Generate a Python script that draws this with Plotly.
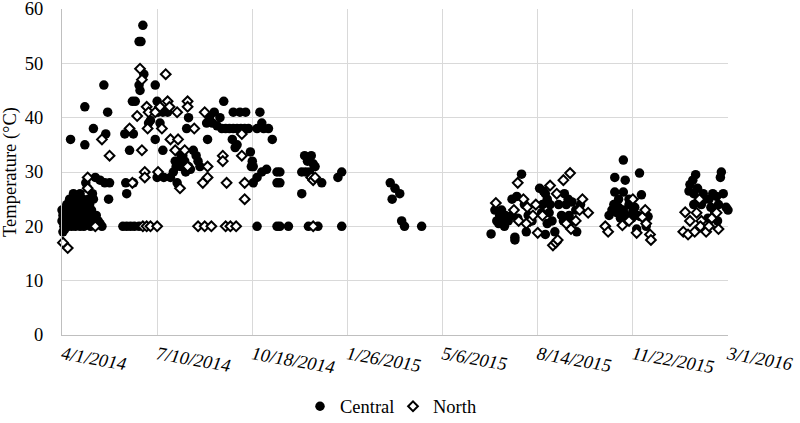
import plotly.graph_objects as go
import pandas as pd

# Days since 4/1/2014 and temperatures (°C)
central_day = [0, 0, 1, 1, 2, 3, 3, 4, 5, 5, 6, 7, 8, 8, 9, 10, 10, 11, 12, 12, 13, 14, 14, 15, 16, 17, 17, 18, 19, 19,
               20, 21, 22, 23, 24, 24, 25, 26, 27, 27, 28, 29, 29, 30, 31, 32, 33, 34, 36, 38, 40, 42, 35, 40, 45, 50,
               49, 9, 24, 24, 33, 44, 48, 46,
               66, 75, 71, 74, 77, 81, 83, 85, 86, 81, 82, 98, 100, 98, 91, 93, 103, 106, 101, 106, 111, 100, 107, 114,
               121, 117, 120, 122, 125, 127, 130, 133, 119, 124, 129, 135, 131, 133, 138, 141, 145, 143, 152, 155, 158,
               160, 166, 163, 168, 172, 176, 180, 184, 188, 192, 196, 170, 180, 187, 193, 153, 179, 182, 184, 198, 200,
               199, 201, 205, 210, 212, 217, 221, 208, 205, 210, 215, 201, 226, 226, 67, 68, 75,
               64, 68, 72, 76, 81, 205, 226,
               229, 229, 229, 238, 252, 256, 260, 252, 255, 258, 262, 266, 264, 273, 259, 269, 290, 294, 294,
               345, 350, 355, 347, 357, 360, 378,
               451, 476, 476, 483, 457, 460, 463, 466, 469, 455, 462, 459, 465, 473, 478, 479, 473, 502, 506, 510, 508,
               505, 513, 504, 512, 510, 515, 508, 518, 528, 532, 530, 536, 540, 545, 533, 527, 541, 522, 525, 536, 490,
               494, 486, 488,
               590, 607, 581, 592, 581, 590, 609, 575, 578, 580, 583, 585, 587, 590, 593, 596, 599, 602, 605, 608, 612,
               616, 604, 614, 585, 596, 600,
               693, 692, 666, 663, 660, 659, 664, 674, 684, 688, 695, 664, 672, 682, 690, 698, 679, 689, 676, 686, 668,
               680, 700]
central_temp = [23, 21, 19, 22, 20, 23, 19.5, 21, 22, 24, 20, 23, 21, 25, 22, 20, 24, 23, 21, 26, 22, 20, 24, 23, 25, 21,
                22, 24, 20, 26, 23, 22, 25, 20, 21, 24, 28, 23, 27, 22, 25, 21, 24, 20, 23, 26, 25, 22, 22, 21, 20.5,
                20, 29, 28.5, 28, 28, 25, 36, 42, 35, 38, 46, 41, 37,
                37, 37, 34, 43, 43, 54, 54, 57, 48, 46, 45, 46, 43, 36, 39, 39.5, 39, 34, 41, 41, 41, 29, 29, 29, 28,
                30, 31, 32, 31, 33, 30, 31, 32, 33.5, 32, 30.5, 38, 40, 34, 33, 31, 32, 39, 40, 39, 41, 40, 38.5, 38, 38,
                38, 38, 38, 38, 38, 38, 43, 41, 41, 41, 36, 36, 34.5, 35, 33.7, 32, 31, 31, 38, 39, 38, 38, 36, 41, 29,
                30, 30.5, 28, 30, 28, 28, 26, 28,
                20, 20, 20, 20, 20, 20, 20,
                30, 28, 20, 20, 30, 30, 30, 26, 33, 32, 33, 31, 31.5, 28, 20, 20, 29, 30, 20,
                28, 27, 26, 25, 21, 20, 20,
                18.6, 18, 17.5, 29.6, 21, 22, 21.5, 22, 21, 23, 23, 20.5, 20, 25, 25.5, 21.5, 22, 27, 26.5, 25, 26, 24,
                24, 22.5, 22.5, 20.5, 21, 18.5, 19, 26, 25, 24, 24.5, 23, 24, 22, 21, 19, 24, 22, 21, 22, 21, 24, 19,
                32.2, 29.8, 29, 28.5, 26.3, 26.3, 25.8, 22, 23, 24, 22.5, 25, 21.5, 23, 22, 24, 21.5, 23.5, 22, 21.8,
                21.7, 21.8, 19.5, 20, 23.5, 25, 22.8,
                30, 29, 29.5, 28.5, 27.7, 26.5, 26, 26, 26, 25.5, 26, 24, 24, 23.5, 24, 23.5, 21.5, 21, 25, 22.5, 27,
                25, 23]

north_day = [1, 6, 27, 27, 35, 42, 50, 71, 74, 79, 82, 84, 84, 87, 87, 89, 91, 90, 98, 101, 103, 105, 109, 111, 113,
             114, 121, 122, 119, 124, 129, 132, 132, 132, 139, 148, 150, 153, 153, 169, 169, 173, 189, 189, 192, 192,
             85, 89, 93, 100, 143, 150, 157, 172, 177, 183,
             262, 264, 266, 264,
             456, 479, 475, 480, 485, 489, 492, 488, 495, 500, 513, 520, 527, 534, 516, 519, 521, 547, 553, 540, 535,
             505, 498, 530, 544,
             600, 571, 574, 589, 604, 610, 614, 618, 619, 613, 596,
             655, 660, 653, 658, 667, 672, 665, 671, 677, 683, 688, 670, 680, 690]
north_temp = [17, 16, 29, 27, 20, 36, 33, 38, 28, 40.3, 49, 47, 34, 30, 29, 42, 41, 38, 41, 30, 42, 38, 48, 43, 42, 36,
              41, 36, 34, 27, 34, 43, 42, 31, 38, 28, 41, 29, 31, 33, 32, 28, 37, 33, 28, 25,
              20, 20, 20, 20, 20, 20, 20, 20, 20, 20,
              29, 28.5, 29, 20,
              24.3, 28, 23, 21, 25, 23.5, 21, 20.5, 22, 18.8, 27.5, 26, 28.5, 29.8, 16.5, 17, 17.5, 25, 22.5, 21, 19.5,
              22, 24, 20.5, 23,
              25, 20, 19, 20.2, 18.8, 21.7, 20.5, 18.5, 17.5, 23, 21,
              22.6, 21, 19, 18.5, 22.5, 21, 19, 20, 19, 21.5, 22.5, 25, 20, 19.5]

tick_days = [0, 100, 200, 300, 400, 500, 600, 700]
tick_labels = ["4/1/2014", "7/10/2014", "10/18/2014", "1/26/2015", "5/6/2015", "8/14/2015", "11/22/2015", "3/1/2016"]

start = pd.Timestamp("2014-04-01")
to_date = lambda d: [start + pd.Timedelta(days=v) for v in d]

FONT = "'Liberation Serif', 'Times New Roman', 'DejaVu Serif', serif"
FS = 18.5

fig = go.Figure()
fig.add_trace(go.Scatter(x=to_date(central_day), y=central_temp, mode="markers", name="Central",
                         cliponaxis=False,
                         marker=dict(symbol="circle", size=9.5, color="black", line=dict(width=0))))
fig.add_trace(go.Scatter(x=to_date(north_day), y=north_temp, mode="markers", name="North",
                         cliponaxis=False,
                         marker=dict(symbol="diamond", size=7.5, color="white", line=dict(color="black", width=2))))

fig.update_layout(
    width=800, height=423,
    margin=dict(l=62, r=72, t=9, b=88, autoexpand=False),
    paper_bgcolor="white", plot_bgcolor="white",
    font=dict(family=FONT, size=FS, color="black"),
    showlegend=True,
    legend=dict(orientation="h", x=0.497, xanchor="center", y=-0.22, yanchor="middle",
                font=dict(family=FONT, size=FS, color="black"), itemwidth=30, tracegroupgap=0,
                entrywidth=48),
)
fig.update_xaxes(
    type="date",
    range=[start, start + pd.Timedelta(days=700)],
    tickvals=to_date(tick_days), ticktext=tick_labels,
    tickangle=10,
    tickfont=dict(family=FONT, size=FS, style="italic", color="black"),
    showgrid=True, gridcolor="#d9d9d9", gridwidth=1,
    showline=True, linecolor="#bfbfbf", linewidth=1,
    ticks="", ticklabelstandoff=1, zeroline=False, automargin=False,
    ticklabeloverflow="allow",
)
fig.update_yaxes(
    range=[0, 60], dtick=10, tick0=0,
    tickfont=dict(family=FONT, size=FS, color="black"),
    showgrid=True, gridcolor="#d9d9d9", gridwidth=1,
    showline=True, linecolor="#bfbfbf", linewidth=1,
    ticks="", ticklabelstandoff=14, zeroline=False, automargin=False,
    ticklabeloverflow="allow",
    title=dict(text="Temperature (°C)", font=dict(family=FONT, size=18.5, color="black"), standoff=6),
)

fig.write_html("out.html", config={"displayModeBar": False},
               post_script="document.body.style.margin='0';document.body.style.padding='0';")
